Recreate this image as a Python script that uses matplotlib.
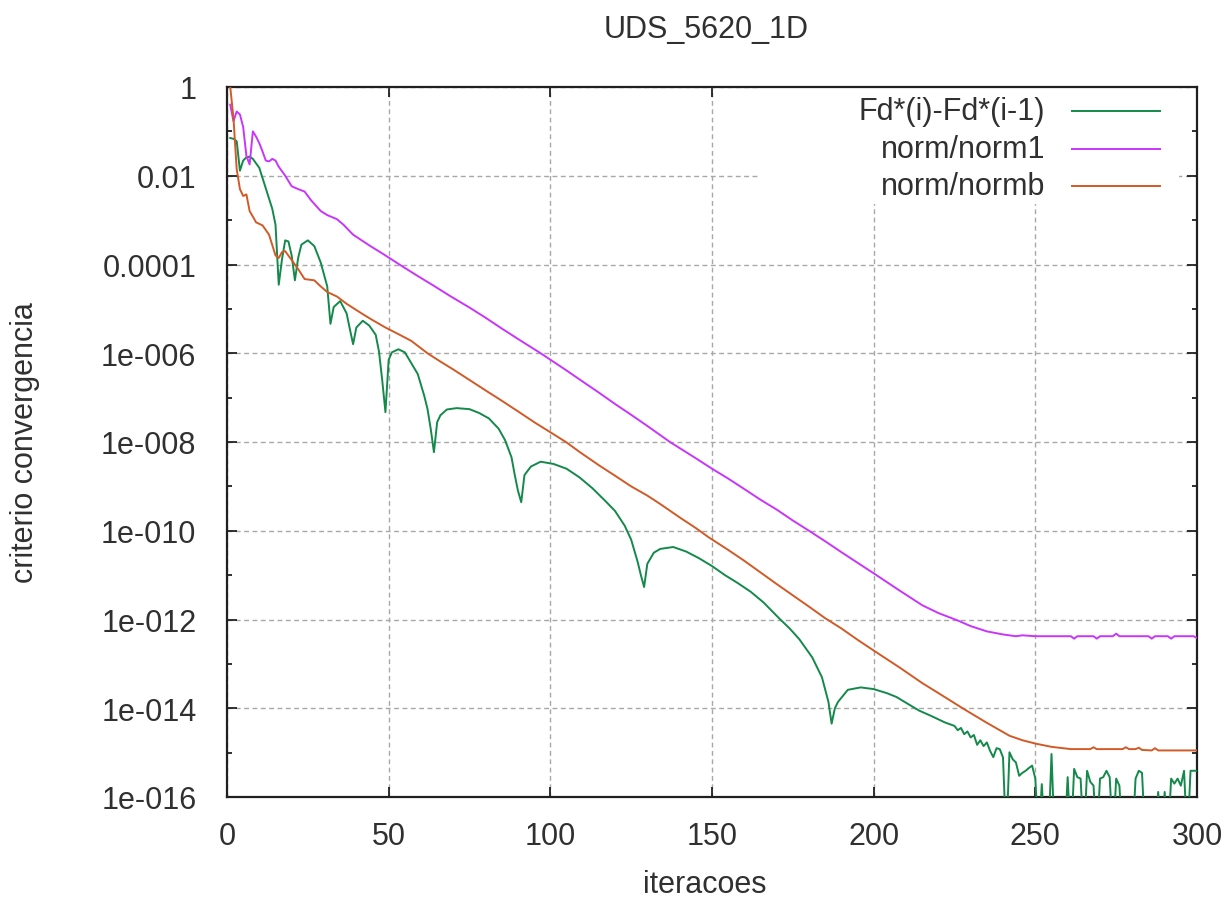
import matplotlib
import matplotlib.pyplot as plt
from matplotlib.patches import Rectangle
from matplotlib.ticker import FixedFormatter, FixedLocator, NullFormatter

matplotlib.use("Agg")

plt.rcParams["font.family"] = ["Liberation Sans", "DejaVu Sans"]

TITLE = "UDS_5620_1D"
X_LABEL = "iteracoes"
Y_LABEL = "criterio convergencia"
SERIES_NAMES = ["Fd*(i)-Fd*(i-1)", "norm/norm1", "norm/normb"]

X_TICKS = [0, 50, 100, 150, 200, 250, 300]
Y_TICKS = [1, 1e-2, 1e-4, 1e-6, 1e-8, 1e-10, 1e-12, 1e-14, 1e-16]
Y_TICK_LABELS = ["1", "0.01", "0.0001", "1e-006", "1e-008", "1e-010", "1e-012", "1e-014", "1e-016"]
Y_MINOR = [1e-1, 1e-3, 1e-5, 1e-7, 1e-9, 1e-11, 1e-13, 1e-15]

# Fd*(i)-Fd*(i-1); entries of 1e-17 fall below the plotted range
fd_iter = [
    1, 2, 3, 4, 5, 6, 7, 8, 10, 12, 14, 15, 16, 17, 18, 19, 20, 21, 22, 23,
    25, 27, 29, 31, 32, 33, 35, 37, 38, 39, 40, 42, 44, 46, 47, 48, 49, 50, 51, 53,
    55, 57, 59, 61, 62, 63, 64, 65, 66, 68, 71, 75, 78, 81, 84, 86, 88, 89, 90, 91,
    92, 94, 97, 101, 105, 109, 113, 117, 120, 123, 125, 127, 128, 129, 130, 132, 134, 138, 142, 146,
    150, 154, 158, 162, 166, 171, 174, 177, 181, 184, 186, 187, 188, 189, 192, 196, 200, 204, 207, 211,
    214, 218, 222, 225, 226, 227, 228, 229, 230, 231, 232, 233, 234, 235, 236, 237, 238, 239, 240, 241,
    242, 243, 244, 245, 246, 247, 248, 249, 250, 251, 252, 253, 254, 255, 256, 257, 258, 259, 260, 261,
    262, 263, 264, 265, 266, 267, 268, 269, 270, 271, 272, 273, 274, 275, 276, 277, 278, 279, 280, 281,
    282, 283, 284, 285, 286, 287, 288, 289, 290, 291, 292, 293, 294, 295, 296, 297, 298, 299, 300,
]
fd_vals = [
    7.1e-2, 6.8e-2, 6.0e-2, 1.3e-2, 2.2e-2, 2.6e-2, 2.7e-2, 2.4e-2, 1.5e-2, 5.2e-3,
    1.8e-3, 7.9e-4, 3.5e-5, 1.3e-4, 3.5e-4, 3.3e-4, 1.6e-4, 4.4e-5, 1.4e-4, 2.8e-4,
    3.5e-4, 2.6e-4, 1.1e-4, 3.2e-5, 4.6e-6, 1.1e-5, 1.5e-5, 7.9e-6, 3.5e-6, 1.6e-6,
    3.8e-6, 5.4e-6, 4.2e-6, 2.6e-6, 1.1e-6, 2.5e-7, 4.7e-8, 7.1e-7, 1.05e-6, 1.23e-6,
    1.05e-6, 6.0e-7, 3.4e-7, 1.1e-7, 5.6e-8, 2.0e-8, 5.9e-9, 2.8e-8, 4.0e-8, 5.4e-8,
    5.8e-8, 5.5e-8, 4.5e-8, 3.4e-8, 2.0e-8, 1.1e-8, 4.5e-9, 1.8e-9, 7.9e-10, 4.4e-10,
    1.8e-9, 2.8e-9, 3.6e-9, 3.2e-9, 2.5e-9, 1.6e-9, 9.1e-10, 4.7e-10, 2.8e-10, 1.3e-10,
    6.3e-11, 2.0e-11, 1.0e-11, 5.4e-12, 1.8e-11, 3.2e-11, 3.9e-11, 4.3e-11, 3.4e-11, 2.4e-11,
    1.6e-11, 1.0e-11, 6.6e-12, 4.2e-12, 2.4e-12, 1.02e-12, 6.3e-13, 3.6e-13, 1.4e-13, 5.0e-14,
    1.4e-14, 4.5e-15, 1.0e-14, 1.4e-14, 2.6e-14, 2.95e-14, 2.7e-14, 2.2e-14, 1.8e-14, 1.2e-14,
    8.9e-15, 6.6e-15, 4.8e-15, 4.0e-15, 3.2e-15, 3.6e-15, 2.6e-15, 3.0e-15, 2.2e-15, 2.5e-15,
    1.5e-15, 1.9e-15, 1.4e-15, 1.7e-15, 1.1e-15, 7.9e-16, 1.26e-15, 1.2e-15, 7.8e-16, 1e-17,
    1.02e-15, 7.1e-16, 6.0e-16, 3.0e-16, 3.5e-16, 3.9e-16, 4.5e-16, 5.1e-16, 2.6e-16, 1e-17,
    1.95e-16, 1e-17, 1e-17, 9.3e-16, 1e-17, 1e-17, 1e-17, 1e-17, 2.8e-16, 1e-17,
    4.3e-16, 2.8e-16, 2.6e-16, 1e-17, 3.9e-16, 2.2e-16, 1.8e-16, 1e-17, 2.6e-16, 2.8e-16,
    3.9e-16, 2.8e-16, 1e-17, 2.6e-16, 1.8e-16, 1e-17, 1e-17, 1e-17, 1e-17, 2.6e-16,
    3.9e-16, 3.5e-16, 1e-17, 1e-17, 1e-17, 1e-17, 1.3e-16, 1e-17, 1.3e-16, 1e-17,
    2.6e-16, 2.0e-16, 2.6e-16, 1.8e-16, 3.9e-16, 1e-17, 3.9e-16, 3.9e-16, 3.9e-16,
]

norm1_iter = [
    1, 2, 3, 4, 5, 6, 7, 8, 9, 10, 11, 12, 13, 14, 15, 16, 18, 20, 22, 24,
    26, 29, 31, 34, 36, 39, 44, 49, 54, 59, 64, 69, 75, 80, 85, 90, 97, 105, 110, 115,
    120, 125, 130, 137, 145, 150, 155, 160, 165, 170, 175, 180, 185, 190, 195, 200, 208, 215, 220, 226,
    230, 235, 240, 244, 246, 250, 261, 262, 263, 268, 269, 270, 274, 275, 276, 285, 286, 287, 291, 292,
    293, 299, 300,
]
norm1_vals = [
    4.0e-1, 1.7e-1, 2.8e-1, 2.4e-1, 1.26e-1, 2.8e-2, 1.8e-2, 1.0e-1, 7.6e-2, 5.4e-2,
    3.5e-2, 2.2e-2, 2.1e-2, 2.4e-2, 2.2e-2, 1.6e-2, 1.0e-2, 5.8e-3, 5.0e-3, 4.4e-3,
    2.8e-3, 1.6e-3, 1.3e-3, 1.05e-3, 7.9e-4, 4.7e-4, 2.7e-4, 1.6e-4, 9.3e-5, 5.5e-5,
    3.3e-5, 1.95e-5, 1.07e-5, 6.3e-6, 3.6e-6, 2.1e-6, 1.0e-6, 4.1e-7, 2.3e-7, 1.3e-7,
    7.2e-8, 4.1e-8, 2.3e-8, 1.0e-8, 4.3e-9, 2.5e-9, 1.5e-9, 8.7e-10, 5.0e-10, 3.0e-10,
    1.7e-10, 1.0e-10, 5.8e-11, 3.3e-11, 1.9e-11, 1.1e-11, 4.5e-12, 2.1e-12, 1.4e-12, 9.5e-13,
    7.1e-13, 5.4e-13, 4.6e-13, 4.2e-13, 4.4e-13, 4.2e-13, 4.2e-13, 3.7e-13, 4.2e-13, 4.2e-13,
    3.7e-13, 4.2e-13, 4.2e-13, 4.8e-13, 4.2e-13, 4.2e-13, 3.7e-13, 4.2e-13, 4.2e-13, 3.7e-13,
    4.2e-13, 4.2e-13, 3.8e-13,
]

normb_iter = [
    1, 2, 3, 4, 5, 6, 7, 8, 9, 11, 13, 15, 16, 17, 18, 20, 22, 24, 27, 29,
    31, 34, 37, 42, 45, 49, 53, 57, 62, 66, 70, 75, 80, 85, 90, 95, 100, 105, 109, 115,
    120, 125, 130, 134, 140, 145, 149, 155, 160, 165, 170, 175, 180, 185, 190, 195, 200, 208, 215, 220,
    228, 235, 242, 246, 250, 255, 261, 267, 268, 269, 277, 278, 279, 281, 282, 283, 286, 287, 288, 300,
]
normb_vals = [
    1.0, 2.0e-1, 1.4e-2, 5.0e-3, 3.5e-3, 3.8e-3, 1.6e-3, 1.2e-3, 8.9e-4, 7.6e-4,
    4.7e-4, 1.6e-4, 1.4e-4, 1.9e-4, 2.0e-4, 1.26e-4, 7.9e-5, 4.7e-5, 4.4e-5, 3.2e-5,
    2.4e-5, 1.9e-5, 1.3e-5, 7.6e-6, 5.6e-6, 3.8e-6, 2.7e-6, 1.9e-6, 1.0e-6, 6.5e-7,
    4.3e-7, 2.5e-7, 1.45e-7, 8.5e-8, 4.9e-8, 2.8e-8, 1.66e-8, 9.8e-9, 6.0e-9, 3.0e-9,
    1.74e-9, 1.0e-9, 6.2e-10, 4.0e-10, 2.0e-10, 1.15e-10, 7.1e-11, 3.7e-11, 2.1e-11, 1.15e-11,
    6.3e-12, 3.5e-12, 1.95e-12, 1.07e-12, 6.3e-13, 3.5e-13, 2.0e-13, 8.3e-14, 3.7e-14, 2.2e-14,
    9.5e-15, 4.7e-15, 2.4e-15, 1.9e-15, 1.6e-15, 1.35e-15, 1.2e-15, 1.2e-15, 1.32e-15, 1.2e-15,
    1.2e-15, 1.32e-15, 1.2e-15, 1.2e-15, 1.29e-15, 1.15e-15, 1.12e-15, 1.26e-15, 1.12e-15, 1.12e-15,
]

colors = ["#13894a", "#c935fb", "#d15a27"]
text_color = "#303030"
font_size = 22

fig = plt.figure(figsize=(12.28, 9.04), dpi=100)
ax = fig.add_axes([227 / 1228, 1 - 798 / 904, 970 / 1228, 710 / 904])

lines = []
for it, vals, c in zip([fd_iter, norm1_iter, normb_iter], [fd_vals, norm1_vals, normb_vals], colors):
    (ln,) = ax.plot(it, vals, color=c, lw=1.4, zorder=3)
    lines.append(ln)

ax.set_yscale("log")
ax.set_xlim(0, 300)
ax.set_ylim(1e-16, 1)

ax.xaxis.set_major_locator(FixedLocator(X_TICKS))
ax.yaxis.set_major_locator(FixedLocator(Y_TICKS))
ax.yaxis.set_major_formatter(FixedFormatter(Y_TICK_LABELS))
ax.yaxis.set_minor_locator(FixedLocator(Y_MINOR))
ax.yaxis.set_minor_formatter(NullFormatter())
ax.xaxis.set_minor_locator(FixedLocator([]))

ax.tick_params(which="major", direction="in", length=7, width=1.3, top=True, right=True,
               labelsize=font_size, labelcolor=text_color, color="#202020")
ax.tick_params(axis="y", which="major", pad=22)
ax.tick_params(axis="x", which="major", pad=17)
ax.tick_params(which="minor", direction="in", length=3.6, width=1.3, right=True, color="#202020")

ax.set_axisbelow(True)
ax.grid(True, which="major", color="#a8a8a8", lw=1.0, linestyle=(0, (3.5, 2.5)))
for sp in ax.spines.values():
    sp.set_linewidth(1.6)
    sp.set_color("#202020")

# white key area blanks out the grid behind the legend entries
ax.add_patch(Rectangle((0.5495, 0.835), 0.432, 0.165, transform=ax.transAxes,
                       facecolor="white", edgecolor="none", zorder=1))

key_rows = [0.9655, 0.9127, 0.8599]
for name, ln, yk in zip(SERIES_NAMES, lines, key_rows):
    ax.text(0.8433, yk, name, transform=ax.transAxes, ha="right", va="center",
            fontsize=font_size, color=text_color, zorder=4)
    ax.plot([0.8711, 0.9619], [yk, yk], transform=ax.transAxes,
            color=ln.get_color(), lw=1.4, zorder=4)

fig.text(0.575, 1 - 30 / 904, TITLE, ha="center", va="center", fontsize=font_size, color=text_color)
fig.text(0.574, 1 - 885 / 904, X_LABEL, ha="center", va="center", fontsize=font_size, color=text_color)
fig.text(25 / 1228, 1 - 443 / 904, Y_LABEL, ha="center", va="center", rotation=90,
         fontsize=font_size, color=text_color)

fig.savefig("out.png", dpi=100)
plt.close(fig)
